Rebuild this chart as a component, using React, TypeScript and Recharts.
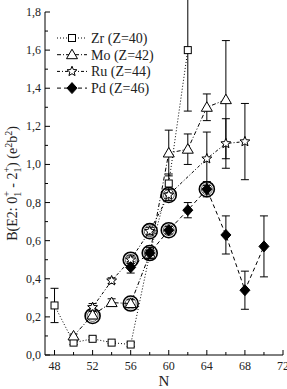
import React from 'react';
import { ComposedChart, Line, Scatter, XAxis, YAxis, ErrorBar, Legend } from 'recharts';

const zrN = [48, 50, 52, 54, 56, 58, 60, 62];
const zrB = [0.26, 0.065, 0.085, 0.065, 0.055, 0.53, 0.9, 1.6];
const zrErr = [0.09, 0.01, 0.01, 0.005, 0.01, 0.02, 0.05, 0.32];

const moN = [50, 52, 54, 56, 58, 60, 62, 64, 66];
const moB = [0.1, 0.21, 0.275, 0.27, 0.53, 1.06, 1.08, 1.3, 1.34];
const moErr = [0.01, 0.02, 0.02, 0.02, 0.02, 0.12, 0.08, 0.07, 0.31];

const ruN = [52, 54, 56, 58, 60, 64, 66, 68];
const ruB = [0.25, 0.39, 0.5, 0.65, 0.84, 1.03, 1.11, 1.12];
const ruErr = [0.02, 0.015, 0.02, 0.02, 0.03, 0.14, 0.13, 0.2];

const pdN = [56, 58, 60, 62, 64, 66, 68, 70];
const pdB = [0.46, 0.535, 0.655, 0.76, 0.87, 0.63, 0.34, 0.57];
const pdErr = [0.03, 0.03, 0.02, 0.04, 0.04, 0.1, 0.1, 0.16];

const circN = [52, 56, 56, 58, 58, 60, 60, 64];
const circB = [0.205, 0.27, 0.5, 0.65, 0.535, 0.84, 0.655, 0.87];

const xTicks = [48, 50, 52, 54, 56, 58, 60, 62, 64, 66, 68, 70, 72];
const xLabels = [48, 52, 56, 60, 64, 68, 72];
const yTicks = [0, 0.1, 0.2, 0.3, 0.4, 0.5, 0.6, 0.7, 0.8, 0.9, 1.0, 1.1, 1.2, 1.3, 1.4, 1.5, 1.6, 1.7, 1.8];
const yLabels = [0, 0.2, 0.4, 0.6, 0.8, 1.0, 1.2, 1.4, 1.6, 1.8];

const series = [
  { name: 'Zr (Z=40)', kind: 'square', dash: '1 2', n: zrN, b: zrB, e: zrErr },
  { name: 'Mo (Z=42)', kind: 'triangle', dash: '4 2 1 2', n: moN, b: moB, e: moErr },
  { name: 'Ru (Z=44)', kind: 'star', dash: '3 2 1 2', n: ruN, b: ruB, e: ruErr },
  { name: 'Pd (Z=46)', kind: 'diamond', dash: '4 3', n: pdN, b: pdB, e: pdErr },
];

const FONT = "'Liberation Serif', 'Times New Roman', Times, serif";
const fs = (size: number) => ({ fontFamily: FONT, fontSize: size });

function marker(kind: string, cx: number, cy: number, key?: any) {
  if (cx == null || cy == null || isNaN(cx) || isNaN(cy)) return <g key={key} />;
  if (kind === 'square') {
    return <rect key={key} x={cx - 3.5} y={cy - 3.5} width={7} height={7} fill="#fff" stroke="#000" strokeWidth={1} />;
  }
  if (kind === 'triangle') {
    const pts = `${cx},${cy - 5.5} ${cx + 5.5},${cy + 4} ${cx - 5.5},${cy + 4}`;
    return <polygon key={key} points={pts} fill="#fff" stroke="#000" strokeWidth={1} />;
  }
  if (kind === 'star') {
    const p: string[] = [];
    for (let i = 0; i < 10; i++) {
      const r = i % 2 === 0 ? 5.2 : 2.3;
      const a = -Math.PI / 2 + (i * Math.PI) / 5;
      p.push(`${cx + r * Math.cos(a)},${cy + r * Math.sin(a)}`);
    }
    return <polygon key={key} points={p.join(' ')} fill="#fff" stroke="#000" strokeWidth={1} />;
  }
  const pts = `${cx},${cy - 5.5} ${cx + 5},${cy} ${cx},${cy + 5.5} ${cx - 5},${cy}`;
  return <polygon key={key} points={pts} fill="#000" stroke="#000" strokeWidth={1} />;
}

const fmt = (v: number) => v.toFixed(1).replace('.', ',');

const XTick = (props: any) => {
  const { x, y, payload } = props;
  const v = payload.value;
  const major = xLabels.includes(v);
  return (
    <g>
      <line x1={x} x2={x} y1={y} y2={y - (major ? 5 : 3)} stroke="#000" strokeWidth={1} />
      {major && (
        <text x={x} y={y + 15} textAnchor="middle" style={fs(12)} fill="#222">{v}</text>
      )}
    </g>
  );
};

const XTopTick = (props: any) => {
  const { x, y, payload } = props;
  const major = xLabels.includes(payload.value);
  return <line x1={x} x2={x} y1={y} y2={y + (major ? 5 : 3)} stroke="#000" strokeWidth={1} />;
};

const isYMajor = (v: number) => yLabels.some((l) => Math.abs(l - v) < 1e-6);

const YTick = (props: any) => {
  const { x, y, payload } = props;
  const v = payload.value;
  const major = isYMajor(v);
  return (
    <g>
      <line x1={x} x2={x + (major ? 5 : 3)} y1={y} y2={y} stroke="#000" strokeWidth={1} />
      {major && (
        <text x={x - 4} y={y + 4} textAnchor="end" style={fs(12)} fill="#222">{fmt(v)}</text>
      )}
    </g>
  );
};

const YRightTick = (props: any) => {
  const { x, y, payload } = props;
  const major = isYMajor(payload.value);
  return <line x1={x} x2={x - (major ? 5 : 3)} y1={y} y2={y} stroke="#000" strokeWidth={1} />;
};

const YLabel = (props: any) => {
  const vb = props.viewBox || {};
  const cx = 17;
  const cy = (vb.y || 0) + (vb.height || 0) / 2;
  return (
    <text x={cx} y={cy} transform={`rotate(-90 ${cx} ${cy})`} textAnchor="middle" style={fs(14)} fill="#222">
      <tspan>B(E2: 0</tspan>
      <tspan style={fs(10)} dy={4}>1</tspan>
      <tspan style={fs(10)} dx={-5} dy={-11}>+</tspan>
      <tspan dy={7}> - 2</tspan>
      <tspan style={fs(10)} dy={4}>1</tspan>
      <tspan style={fs(10)} dx={-5} dy={-11}>+</tspan>
      <tspan dy={7}>)  (e</tspan>
      <tspan style={fs(10)} dy={-5}>2</tspan>
      <tspan dy={5}>b</tspan>
      <tspan style={fs(10)} dy={-5}>2</tspan>
      <tspan dy={5}>)</tspan>
    </text>
  );
};

const LegendContent = () => (
  <svg width={140} height={72} style={{ display: 'block' }}>
    {series.map((s, i) => {
      const y = 8 + i * 16.7;
      return (
        <g key={s.name}>
          <line x1={2} x2={32} y1={y} y2={y} stroke="#000" strokeWidth={1} strokeDasharray={s.dash} />
          {marker(s.kind, 17, y)}
          <text x={36} y={y + 5} style={fs(14)} fill="#222">{s.name}</text>
        </g>
      );
    })}
  </svg>
);

const circData = circN.map((n, i) => ({ n, b: circB[i] }));

export default function App() {
  return (
    <div style={{ position: 'absolute', left: 0, top: 0 }}>
      <ComposedChart width={287} height={389} margin={{ top: 12, right: 4, bottom: 0, left: 0 }}>
        <XAxis
          xAxisId="b"
          dataKey="n"
          type="number"
          domain={[47, 72]}
          ticks={xTicks}
          interval={0}
          tickLine={false}
          tickSize={0}
          tickMargin={0}
          tick={<XTick />}
          height={34}
          axisLine={{ stroke: '#000' }}
          allowDataOverflow
          label={{ value: 'N', position: 'insideBottom', offset: 3, style: fs(15), fill: '#222' }}
        />
        <XAxis
          xAxisId="t"
          orientation="top"
          dataKey="n"
          type="number"
          domain={[47, 72]}
          ticks={xTicks}
          interval={0}
          tickLine={false}
          tickSize={0}
          tickMargin={0}
          tick={<XTopTick />}
          height={0}
          axisLine={{ stroke: '#000' }}
          allowDataOverflow
        />
        <YAxis
          yAxisId="l"
          type="number"
          domain={[0, 1.8]}
          ticks={yTicks}
          interval={0}
          tickLine={false}
          tickSize={0}
          tickMargin={0}
          tick={<YTick />}
          width={45}
          axisLine={{ stroke: '#000' }}
          allowDataOverflow
          label={<YLabel />}
        />
        <YAxis
          yAxisId="r"
          orientation="right"
          type="number"
          domain={[0, 1.8]}
          ticks={yTicks}
          interval={0}
          tickLine={false}
          tickSize={0}
          tickMargin={0}
          tick={<YRightTick />}
          width={0}
          axisLine={{ stroke: '#000' }}
          allowDataOverflow
        />
        <Legend
          layout="vertical"
          align="center"
          verticalAlign="middle"
          content={<LegendContent />}
          wrapperStyle={{ left: 55, top: 30, width: 140, height: 72 }}
        />
        {series.map((s) => (
          <Line
            key={s.name}
            xAxisId="b"
            yAxisId="l"
            data={s.n.map((n, i) => ({ n, b: s.b[i], e: s.e[i] }))}
            dataKey="b"
            name={s.name}
            stroke="#000"
            strokeWidth={1}
            strokeDasharray={s.dash}
            isAnimationActive={false}
            legendType="none"
            dot={(p: any) => marker(s.kind, p.cx, p.cy, p.key ?? p.index)}
            activeDot={false}
          >
            <ErrorBar dataKey="e" direction="y" width={4} stroke="#000" strokeWidth={1} />
          </Line>
        ))}
        <Scatter
          xAxisId="b"
          yAxisId="l"
          data={circData}
          dataKey="b"
          isAnimationActive={false}
          legendType="none"
          shape={(p: any) => (
            <g>
              <circle cx={p.cx} cy={p.cy} r={7.5} fill="none" stroke="#000" strokeWidth={1.6} />
              <circle cx={p.cx} cy={p.cy} r={5.5} fill="none" stroke="#000" strokeWidth={0.6} />
            </g>
          )}
        />
      </ComposedChart>
    </div>
  );
}
